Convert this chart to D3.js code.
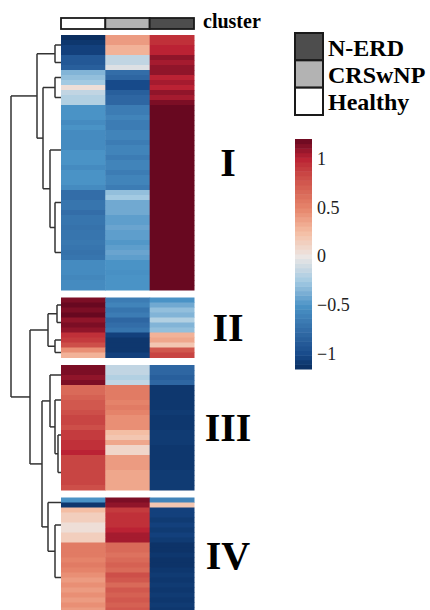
<!DOCTYPE html>
<html>
<meta charset="utf-8">
<style>
    body {
        margin: 0;
        background: white;
    }
    text {
        font-family: "Liberation Serif", "Times New Roman", serif;
    }
    .bold {
        font-weight: bold;
    }
</style>
<body>
<div id="container"></div>
<script src="https://d3js.org/d3.v7.min.js"></script>
<script>
// column groups (left to right) and their annotation colours
var columns = ["Healthy", "CRSwNP", "N-ERD"];
var columnColors = ["#ffffff", "#b3b3b3", "#4d4d4d"];
var legendOrder = ["N-ERD", "CRSwNP", "Healthy"];

// row clusters and how many rows each has
var clusterNames = ["I", "II", "III", "IV"];
var clusterSizes = [51, 12, 25, 23];

// scaled expression, one value per row, cluster I..IV in order
var healthy = [
    -1.15, -1.10, -1.05, -1.05, -0.90, -0.90, -0.85, -0.35, -0.30, -0.25,
    0.05, -0.15, -0.20, -0.20, -0.50, -0.50, -0.50, -0.55, -0.50, -0.55,
    -0.55, -0.55, -0.55, -0.50, -0.50, -0.50, -0.55, -0.50, -0.50, -0.50,
    -0.55, -0.75, -0.75, -0.70, -0.70, -0.75, -0.70, -0.70, -0.72, -0.70,
    -0.70, -0.68, -0.70, -0.72, -0.70, -0.55, -0.55, -0.55, -0.58, -0.55,
    -0.55,
    1.15, 1.20, 1.15, 1.20, 1.10, 1.15, 1.10, 0.95, 0.90, 0.80,
    0.45, 0.30,
    1.15, 1.15, 1.10, 1.15, 0.65, 0.65, 0.70, 0.75, 0.75, 0.80,
    0.85, 0.85, 0.80, 0.90, 0.90, 0.95, 0.95, 1.00, 0.85, 0.85,
    0.85, 0.85, 0.85, 0.85, 0.80,
    -0.50, -1.10, 0.25, 0.15, 0.15, 0.05, 0.05, 0.15, 0.15, 0.55,
    0.55, 0.55, 0.50, 0.55, 0.50, 0.45, 0.40, 0.45, 0.40, 0.45,
    0.40, 0.45, 0.40
];
var crswnp = [
    0.40, 0.40, 0.30, 0.30, -0.15, -0.15, -0.05, -0.75, -0.80, -1.00,
    -1.00, -0.85, -0.80, -0.80, -0.65, -0.65, -0.60, -0.65, -0.65, -0.60,
    -0.60, -0.65, -0.60, -0.60, -0.65, -0.60, -0.60, -0.65, -0.60, -0.60,
    -0.65, -0.30, -0.25, -0.40, -0.40, -0.40, -0.45, -0.45, -0.42, -0.45,
    -0.45, -0.48, -0.45, -0.42, -0.45, -0.50, -0.50, -0.52, -0.50, -0.50,
    -0.50,
    -0.65, -0.60, -0.70, -0.65, -0.80, -0.75, -0.70, -1.05, -1.10, -1.10,
    -1.10, -1.05,
    -0.15, -0.15, -0.20, -0.15, 0.55, 0.55, 0.55, 0.50, 0.55, 0.50,
    0.45, 0.45, 0.45, 0.25, 0.20, 0.35, 0.10, 0.10, 0.40, 0.40,
    0.40, 0.35, 0.35, 0.35, 0.35,
    1.15, 1.10, 0.90, 0.95, 0.95, 0.95, 1.00, 1.05, 1.05, 0.65,
    0.65, 0.60, 0.65, 0.70, 0.65, 0.80, 0.75, 0.65, 0.75, 0.70,
    0.75, 0.70, 0.75
];
var nerd = [
    0.95, 0.95, 1.00, 1.00, 1.10, 1.05, 1.10, 1.10, 1.00, 1.05,
    1.00, 1.10, 1.05, 1.15, 1.20, 1.20, 1.20, 1.20, 1.20, 1.20,
    1.20, 1.20, 1.20, 1.20, 1.20, 1.20, 1.20, 1.20, 1.20, 1.20,
    1.20, 1.20, 1.20, 1.20, 1.20, 1.20, 1.20, 1.20, 1.20, 1.20,
    1.20, 1.20, 1.20, 1.20, 1.20, 1.20, 1.20, 1.20, 1.20, 1.20,
    1.20,
    -0.50, -0.40, -0.30, -0.35, -0.20, -0.35, -0.30, 0.30, 0.35, 0.20,
    0.75, 0.85,
    -0.80, -0.80, -0.85, -0.80, -1.10, -1.10, -1.10, -1.10, -1.10, -1.08,
    -1.10, -1.10, -1.10, -1.08, -1.08, -1.08, -1.10, -1.10, -1.10, -1.10,
    -1.10, -1.08, -1.08, -1.08, -1.08,
    -0.60, 0.20, -1.05, -1.05, -1.08, -1.05, -1.08, -1.05, -1.08, -1.12,
    -1.12, -1.10, -1.12, -1.12, -1.10, -1.08, -1.10, -1.08, -1.10, -1.08,
    -1.10, -1.08, -1.10
];

// colour key ticks and range
var keyTicks = [-1, -0.5, 0, 0.5, 1];
var keyDomain = [-1.15, 1.2];

// row dendrogram: leaves are [firstRow, lastRow], nodes have a height
var tree = {h: 10, c: [
    {h: 4.8, c: [
        {h: 1.2, c: [[0, 3], [4, 6]]},
        {h: 3.6, c: [
            {h: 1.2, c: [[7, 9], [10, 14]]},
            {h: 2.2, c: [[15, 30], {h: 1.2, c: [[31, 35], [36, 50]]}]}
        ]}
    ]},
    {h: 6.2, c: [
        {h: 2.6, c: [
            {h: 0.8, c: [[51, 53], [54, 57]]},
            {h: 1.2, c: [[58, 60], [61, 62]]}
        ]},
        {h: 3.8, c: [
            {h: 2.2, c: [[63, 66], {h: 1.2, c: [[67, 72], {h: 0.6, c: [[73, 80], [81, 87]]}]}]},
            {h: 2.6, c: [[88, 89], {h: 1.2, c: [[90, 96], [97, 110]]}]}
        ]}
    ]}
]};

var width = 430, height = 610;
var svg = d3.select("#container").append("svg")
    .attr("width", width)
    .attr("height", height);

var heatLeft = 61, heatRight = 194, heatTop = 35, rowH = 5, gap = 7.5;

// which cluster each row is in
var rowCluster = [];
clusterSizes.forEach(function(n, k) {
    for (var i = 0; i < n; i++) rowCluster.push(k);
});
var nRows = rowCluster.length;

var yRow = d3.scaleLinear().domain([0, nRows]).range([heatTop, heatTop + nRows * rowH]);
var rowY = function(i) { return yRow(i) + gap * rowCluster[i]; };

var x = d3.scaleBand().domain(columns).range([heatLeft, heatRight]);

// blue - white - red ramp, as the key in the picture shows it
var color = d3.scaleLinear()
    .domain([-1.15, -1, -0.5, -0.25, 0, 0.25, 0.5, 1, 1.2])
    .range(["#0a2e60", "#174a8a", "#4a93c6", "#a3cae2", "#ebe6e4", "#f4bea4", "#e5836a", "#bb2234", "#680820"])
    .interpolate(d3.interpolateLab)
    .clamp(true);

var series = [healthy, crswnp, nerd];
var cells = [];
for (var i = 0; i < nRows; i++) {
    for (var j = 0; j < columns.length; j++) {
        cells.push({row: i, col: columns[j], v: series[j][i]});
    }
}

svg.append("g").selectAll("rect")
    .data(cells)
    .enter()
    .append("rect")
    .attr("x", function(d) { return x(d.col); })
    .attr("y", function(d) { return rowY(d.row); })
    .attr("width", x.bandwidth() + 0.5)
    .attr("height", rowH + 0.5)
    .attr("fill", function(d) { return color(d.v); });

// column annotation bar
var ann = svg.append("g");
ann.selectAll("rect")
    .data(columns)
    .enter()
    .append("rect")
    .attr("x", function(d) { return x(d); })
    .attr("y", 18)
    .attr("width", x.bandwidth())
    .attr("height", 11)
    .attr("fill", function(d, i) { return columnColors[i]; })
    .attr("stroke", "#1a1a1a")
    .attr("stroke-width", 1.8);
ann.append("text")
    .attr("class", "bold")
    .attr("x", heatRight + 9)
    .attr("y", 28)
    .attr("font-size", 20)
    .text("cluster");

// dendrogram
var hx = d3.scaleLinear().domain([0, 10]).range([heatLeft, 11]);
var dendro = svg.append("g")
    .attr("fill", "none")
    .attr("stroke", "#333")
    .attr("stroke-width", 1.5);

var layout = function(node) {
    if (Array.isArray(node)) {
        var top = rowY(node[0]), bottom = rowY(node[1]) + rowH;
        return {y: (top + bottom) / 2, h: 0};
    }
    var kids = node.c.map(layout);
    var nx = hx(node.h);
    dendro.append("line")
        .attr("x1", nx).attr("x2", nx)
        .attr("y1", kids[0].y).attr("y2", kids[1].y);
    kids.forEach(function(k) {
        dendro.append("line")
            .attr("x1", nx).attr("x2", hx(k.h))
            .attr("y1", k.y).attr("y2", k.y);
    });
    return {y: (kids[0].y + kids[1].y) / 2, h: node.h};
};
layout(tree);

// cluster numerals
var start = 0;
clusterSizes.forEach(function(n, k) {
    var mid = (rowY(start) + rowY(start + n - 1) + rowH) / 2;
    svg.append("text")
        .attr("class", "bold")
        .attr("x", 228)
        .attr("y", mid)
        .attr("text-anchor", "middle")
        .attr("dominant-baseline", "central")
        .attr("font-size", 40)
        .text(clusterNames[k]);
    start += n;
});

// group legend
var legY = d3.scaleBand().domain(legendOrder).range([33, 115]);
var leg = svg.append("g");
leg.selectAll("rect")
    .data(legendOrder)
    .enter()
    .append("rect")
    .attr("x", 295)
    .attr("y", function(d) { return legY(d); })
    .attr("width", 28)
    .attr("height", legY.bandwidth())
    .attr("fill", function(d) { return columnColors[columns.indexOf(d)]; })
    .attr("stroke", "#1a1a1a")
    .attr("stroke-width", 2);
leg.selectAll("text")
    .data(legendOrder)
    .enter()
    .append("text")
    .attr("class", "bold")
    .attr("x", 328)
    .attr("y", function(d) { return legY(d) + legY.bandwidth() / 2 + 1; })
    .attr("dominant-baseline", "central")
    .attr("font-size", 24)
    .text(function(d) { return d; });

// colour key
var keyY = d3.scaleLinear().domain(keyDomain).range([369, 139]);
var nSteps = 50;
var stepH = (keyDomain[1] - keyDomain[0]) / nSteps;
var steps = d3.range(nSteps).map(function(i) { return keyDomain[0] + stepH * i; });
svg.append("g").selectAll("rect")
    .data(steps)
    .enter()
    .append("rect")
    .attr("x", 295)
    .attr("width", 17)
    .attr("y", function(d) { return keyY(d + stepH); })
    .attr("height", keyY(0) - keyY(stepH) + 0.5)
    .attr("fill", function(d) { return color(d + stepH / 2); });

svg.append("g").selectAll("text")
    .data(keyTicks)
    .enter()
    .append("text")
    .attr("x", 317)
    .attr("y", function(d) { return keyY(d); })
    .attr("dominant-baseline", "central")
    .attr("font-size", 18)
    .attr("fill", "#222")
    .text(function(d) { return String(d).replace("-", "\u2212"); });
</script>
</body>
</html>
